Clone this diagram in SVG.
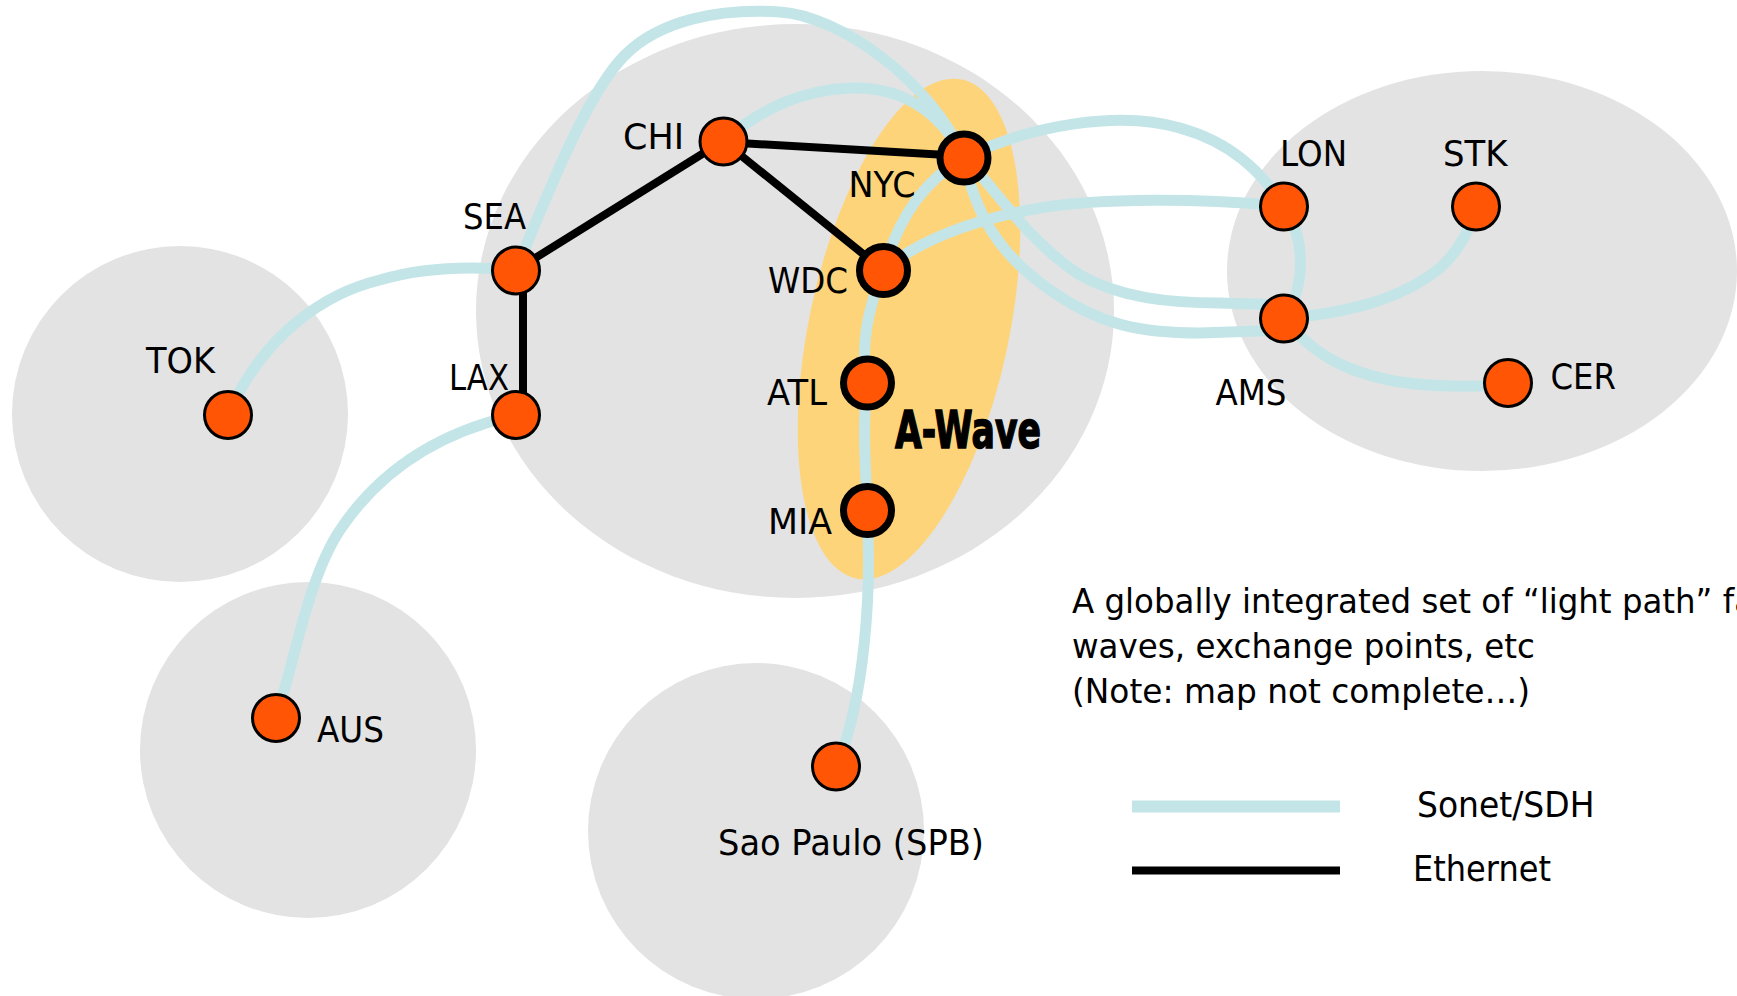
<svg xmlns="http://www.w3.org/2000/svg" width="1737" height="996" viewBox="0 0 1737 996">
<style>
.region{fill:#e3e3e3}
.awave{fill:#fed47a}
.sonet{fill:none;stroke:#c4e5e7;stroke-width:11;stroke-linejoin:round}
.eth{fill:none;stroke:#000;stroke-width:8}
.node{fill:#ff5505;stroke:#000;stroke-width:3}
.hub{fill:#ff5505;stroke:#000;stroke-width:7}
.lbl{font-family:"DejaVu Sans","Liberation Sans",sans-serif;font-size:35px;fill:#000}
.desc{font-family:"DejaVu Sans","Liberation Sans",sans-serif;font-size:34px;fill:#000}
.leg{font-family:"DejaVu Sans","Liberation Sans",sans-serif;font-size:36px;fill:#000}
.big{font-family:"DejaVu Sans","Liberation Sans",sans-serif;font-size:51px;font-weight:bold;fill:#000;stroke:#000;stroke-width:1.6}
</style>
<rect width="1737" height="996" fill="#fff"/>
<g id="regions">
<ellipse class="region" cx="180" cy="414" rx="168" ry="168"/>
<ellipse class="region" cx="308" cy="750" rx="168" ry="168"/>
<ellipse class="region" cx="756" cy="831" rx="168" ry="168"/>
<ellipse class="region" cx="795" cy="311" rx="319" ry="287"/>
<ellipse class="region" cx="1482" cy="271" rx="255" ry="200"/>
<ellipse class="awave" cx="909" cy="329" rx="100" ry="255" transform="rotate(12 909 329)"/>
</g>
<g id="connectors">
<path class="sonet" d="M516,270 C470,266 420,268 380,280 C330,292 265,330 228,415"/>
<path class="sonet" d="M516,415 C440,432 380,470 340,530 C308,578 295,660 276,718"/>
<path class="sonet" d="M516,270 C555,175 590,90 625,55 C660,20 720,8 780,12 C840,16 930,80 964,158"/>
<path class="sonet" d="M723,141 C760,110 800,90 850,88 C900,86 940,110 964,158"/>
<path class="sonet" d="M964,158 C990,180 1025,240 1080,275 C1120,298 1170,303 1220,303 L1284,305"/>
<path class="sonet" d="M964,158 C975,215 1000,255 1050,290 C1100,325 1140,333 1200,333 L1284,330"/>
<path class="sonet" d="M964,158 C925,180 900,215 883,270 C868,310 860,345 867,383 C862,430 866,470 867,510 C872,590 865,700 836,767"/>
<path class="sonet" d="M883,270 C920,240 970,220 1040,208 C1100,198 1200,198 1284,206"/>
<path class="sonet" d="M964,158 C1030,125 1120,110 1180,128 C1230,142 1260,170 1284,206"/>
<path class="sonet" d="M1284,206 C1306,240 1306,285 1284,319"/>
<path class="sonet" d="M1284,319 C1350,312 1400,300 1440,268 C1460,250 1470,230 1476,207"/>
<path class="sonet" d="M1284,319 C1310,350 1340,372 1400,382 C1440,388 1480,386 1508,385"/>
<line class="eth" x1="516" y1="270" x2="723" y2="141"/>
<line class="eth" x1="723" y1="142" x2="964" y2="156"/>
<line class="eth" x1="723" y1="141" x2="883" y2="270"/>
<line class="eth" x1="523" y1="272" x2="523" y2="413"/>
</g>
<g id="node-chi"><circle class="node" cx="723.5" cy="141.5" r="23.5"/><text class="lbl" x="623" y="149" textLength="61" lengthAdjust="spacingAndGlyphs">CHI</text></g>
<g id="node-nyc"><circle class="hub" cx="964" cy="158" r="24"/><text class="lbl" x="848.5" y="196.5" textLength="67" lengthAdjust="spacingAndGlyphs">NYC</text></g>
<g id="node-sea"><circle class="node" cx="516" cy="270.5" r="23.5"/><text class="lbl" x="463" y="229" textLength="63" lengthAdjust="spacingAndGlyphs">SEA</text></g>
<g id="node-lax"><circle class="node" cx="516" cy="415" r="23.5"/><text class="lbl" x="449" y="389.5" textLength="60" lengthAdjust="spacingAndGlyphs">LAX</text></g>
<g id="node-wdc"><circle class="hub" cx="883.5" cy="270.5" r="24"/><text class="lbl" x="768" y="293" textLength="80" lengthAdjust="spacingAndGlyphs">WDC</text></g>
<g id="node-atl"><circle class="hub" cx="867.5" cy="383" r="24"/><text class="lbl" x="767" y="405" textLength="60" lengthAdjust="spacingAndGlyphs">ATL</text></g>
<g id="node-mia"><circle class="hub" cx="867.5" cy="510.5" r="24"/><text class="lbl" x="768" y="533.5" textLength="64" lengthAdjust="spacingAndGlyphs">MIA</text></g>
<g id="node-tok"><circle class="node" cx="228" cy="415" r="23.5"/><text class="lbl" x="146" y="373" textLength="69" lengthAdjust="spacingAndGlyphs">TOK</text></g>
<g id="node-aus"><circle class="node" cx="276" cy="718" r="23.5"/><text class="lbl" x="317" y="742" textLength="67" lengthAdjust="spacingAndGlyphs">AUS</text></g>
<g id="node-spb"><circle class="node" cx="836" cy="766.5" r="23.5"/><text class="lbl" x="718" y="855" textLength="266" lengthAdjust="spacingAndGlyphs">Sao Paulo (SPB)</text></g>
<g id="node-lon"><circle class="node" cx="1284" cy="206.5" r="23.5"/><text class="lbl" x="1280" y="165.5" textLength="67" lengthAdjust="spacingAndGlyphs">LON</text></g>
<g id="node-stk"><circle class="node" cx="1476" cy="206.5" r="23.5"/><text class="lbl" x="1443" y="165.5" textLength="64.5" lengthAdjust="spacingAndGlyphs">STK</text></g>
<g id="node-ams"><circle class="node" cx="1284" cy="318.5" r="23.5"/><text class="lbl" x="1215.5" y="405" textLength="71" lengthAdjust="spacingAndGlyphs">AMS</text></g>
<g id="node-cer"><circle class="node" cx="1508" cy="383" r="23.5"/><text class="lbl" x="1550.5" y="389" textLength="65.5" lengthAdjust="spacingAndGlyphs">CER</text></g>
<g id="awave-label"><text class="big" x="895" y="448" textLength="146" lengthAdjust="spacingAndGlyphs">A-Wave</text></g>
<g id="description">
<text class="desc" x="1072" y="613" textLength="682" lengthAdjust="spacingAndGlyphs">A globally integrated set of “light path” fa</text>
<text class="desc" x="1072" y="658" textLength="463" lengthAdjust="spacingAndGlyphs">waves, exchange points, etc</text>
<text class="desc" x="1072" y="703" textLength="458" lengthAdjust="spacingAndGlyphs">(Note: map not complete…)</text>
</g>
<g id="legend">
<line x1="1132" y1="806.5" x2="1340" y2="806.5" stroke="#c4e5e7" stroke-width="12"/>
<line x1="1132" y1="870.5" x2="1340" y2="870.5" stroke="#000" stroke-width="8"/>
<text class="leg" x="1417" y="817" textLength="177.5" lengthAdjust="spacingAndGlyphs">Sonet/SDH</text>
<text class="leg" x="1413" y="880.5" textLength="138" lengthAdjust="spacingAndGlyphs">Ethernet</text>
</g>
</svg>
